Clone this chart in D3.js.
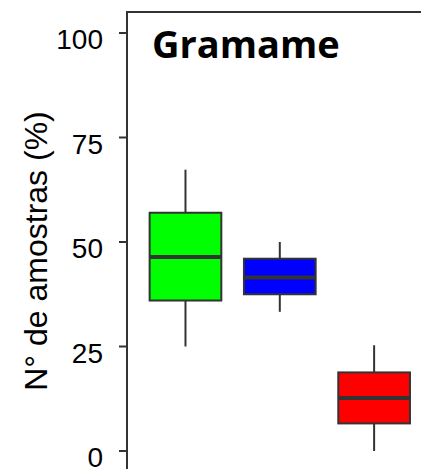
<!DOCTYPE html>
<html>
<head>
<meta charset="utf-8">
<script src="https://cdn.jsdelivr.net/npm/d3@7"></script>
<style>
  html, body { margin: 0; padding: 0; background: #fff; }
  svg { display: block; }
  .tick-label { font-family: "Liberation Sans", Arial, sans-serif; font-size: 28px; fill: #000; }
  .axis-label { font-family: "Liberation Sans", Arial, sans-serif; font-size: 32px; fill: #000; }
  .title { font-family: "Open Sans", sans-serif; font-weight: 700; font-size: 38px; fill: #000; }
</style>
</head>
<body>
<div id="chart"></div>
<script>
// data
const groups = ['Grupo 1', 'Grupo 2', 'Grupo 3'];
const colors = ['#00ff00', '#0000ff', '#ff0000'];
const whiskerLow = [25, 33.3, 0];
const q1 = [36, 37.5, 6.6];
const median = [46.4, 41.5, 12.7];
const q3 = [57, 46, 18.8];
const whiskerHigh = [67.3, 50, 25.3];
const yTicks = [0, 25, 50, 75, 100];
const title = 'Gramame';
const yTitle = 'N° de amostras (%)';

const W = 421, H = 469;
const ink = '#333';

const svg = d3.select('#chart').append('svg')
    .attr('width', W)
    .attr('height', H);

// positions 1..n, R-style 4% padding around 0.5..n+0.5
const x = d3.scaleLinear().domain([0.38, 3.62]).range([127, 432.6]);
const y = d3.scaleLinear().domain([0, 100]).range([451, 33]);
const boxW = x(1.38) - x(1);   // 0.38 units each side

// frame: left + top (right and bottom fall outside the picture)
svg.append('path')
    .attr('d', `M${x.range()[0]},${H + 2}V12H${W + 2}`)
    .attr('fill', 'none').attr('stroke', ink).attr('stroke-width', 2);

// y ticks
yTicks.forEach(t => {
    svg.append('line')
        .attr('x1', x.range()[0] - 8).attr('x2', x.range()[0])
        .attr('y1', y(t)).attr('y2', y(t))
        .attr('stroke', ink).attr('stroke-width', 2);
    svg.append('text').attr('class', 'tick-label')
        .attr('x', 103).attr('y', y(t) + 16)
        .attr('text-anchor', 'end')
        .text(t);
});

svg.append('text').attr('class', 'axis-label')
    .attr('transform', 'translate(47,251) rotate(-90)')
    .attr('text-anchor', 'middle')
    .text(yTitle);

svg.append('text').attr('class', 'title')
    .attr('x', 152).attr('y', 58)
    .text(title);

// boxes
groups.forEach((g, i) => {
    const cx = x(i + 1);
    const gEl = svg.append('g');
    gEl.append('line')
        .attr('x1', cx).attr('x2', cx)
        .attr('y1', y(whiskerHigh[i])).attr('y2', y(q3[i]))
        .attr('stroke', ink).attr('stroke-width', 2);
    gEl.append('line')
        .attr('x1', cx).attr('x2', cx)
        .attr('y1', y(q1[i])).attr('y2', y(whiskerLow[i]))
        .attr('stroke', ink).attr('stroke-width', 2);
    gEl.append('rect')
        .attr('x', cx - boxW).attr('width', boxW * 2)
        .attr('y', y(q3[i])).attr('height', y(q1[i]) - y(q3[i]))
        .attr('fill', colors[i]).attr('stroke', ink).attr('stroke-width', 2);
    gEl.append('line')
        .attr('x1', cx - boxW).attr('x2', cx + boxW)
        .attr('y1', y(median[i])).attr('y2', y(median[i]))
        .attr('stroke', ink).attr('stroke-width', 4);
});
</script>
</body>
</html>
